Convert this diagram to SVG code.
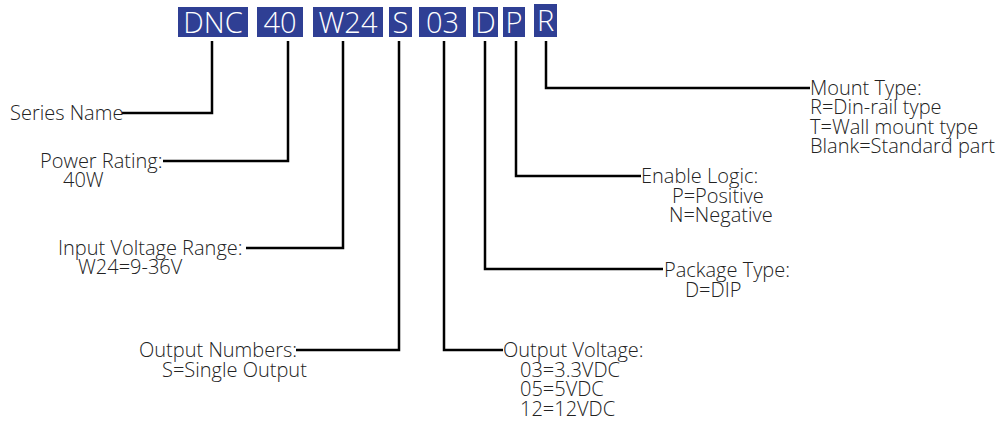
<svg xmlns="http://www.w3.org/2000/svg" width="997" height="426" viewBox="0 0 997 426">
<style>
.box{fill:#2f3f94}
.bt{font-family:"Open Sans","Liberation Sans",Arial,sans-serif;font-weight:300;font-size:29px;fill:#ffffff;text-anchor:middle}
.t{font-family:"Open Sans","Liberation Sans",Arial,sans-serif;font-weight:300;font-size:20px;fill:#222222}
.c{fill:none;stroke:#000000;stroke-width:2.5}
</style>
<rect width="997" height="426" fill="#ffffff"/>
<g id="code-DNC"><rect class="box" x="178" y="7" width="70" height="30"/><text class="bt" x="213" y="32.5">DNC</text></g>
<g id="code-40"><rect class="box" x="257" y="7" width="46" height="30"/><text class="bt" x="280" y="32.5">40</text></g>
<g id="code-W24"><rect class="box" x="313" y="7" width="70" height="30"/><text class="bt" x="348" y="32.5">W24</text></g>
<g id="code-S"><rect class="box" x="389" y="7" width="23" height="30"/><text class="bt" x="400.5" y="32.5">S</text></g>
<g id="code-03"><rect class="box" x="419" y="7" width="47" height="30"/><text class="bt" x="442.5" y="32.5">03</text></g>
<g id="code-D"><rect class="box" x="473" y="7" width="25" height="30"/><text class="bt" x="485.5" y="32.5">D</text></g>
<g id="code-P"><rect class="box" x="503" y="7" width="22" height="30"/><text class="bt" x="514" y="32.5">P</text></g>
<g id="code-R"><rect class="box" x="534" y="4" width="23" height="33"/><text class="bt" x="545.5" y="31">R</text></g>
<g id="connectors">
<path class="c" d="M212,41V113H122"/>
<path class="c" d="M288,41V161H163"/>
<path class="c" d="M343,41V248H246"/>
<path class="c" d="M399,41V350H296"/>
<path class="c" d="M444,41V350H503"/>
<path class="c" d="M485,41V269H663"/>
<path class="c" d="M516,41V176H641"/>
<path class="c" d="M546,41V88H810"/>
</g>
<g id="label-series"><text class="t" x="10" y="120">Series Name</text></g>
<g id="label-power"><text class="t" x="40" y="168">Power Rating:</text><text class="t" x="63" y="187">40W</text></g>
<g id="label-input"><text class="t" x="58" y="255">Input Voltage Range:</text><text class="t" x="78" y="274">W24=9-36V</text></g>
<g id="label-outnum"><text class="t" x="139" y="357">Output Numbers:</text><text class="t" x="162" y="377">S=Single Output</text></g>
<g id="label-outvolt"><text class="t" x="503" y="357">Output Voltage:</text><text class="t" x="520" y="377">03=3.3VDC</text><text class="t" x="520" y="396">05=5VDC</text><text class="t" x="520" y="416">12=12VDC</text></g>
<g id="label-package"><text class="t" x="664" y="277">Package Type:</text><text class="t" x="685" y="297">D=DIP</text></g>
<g id="label-enable"><text class="t" x="641" y="183">Enable Logic:</text><text class="t" x="672" y="203">P=Positive</text><text class="t" x="669" y="222">N=Negative</text></g>
<g id="label-mount"><text class="t" x="810" y="95">Mount Type:</text><text class="t" x="810" y="114">R=Din-rail type</text><text class="t" x="810" y="134">T=Wall mount type</text><text class="t" x="810" y="153">Blank=Standard part</text></g>
</svg>
